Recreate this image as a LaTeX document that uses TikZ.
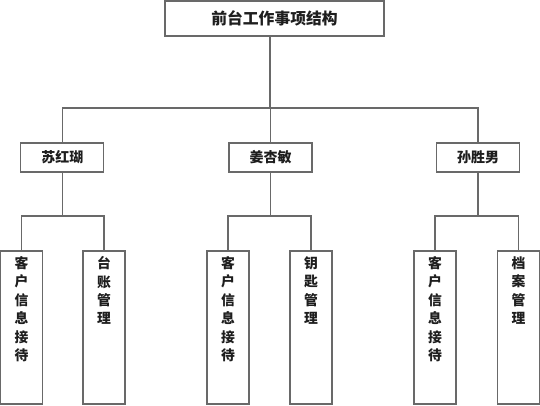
\documentclass[tikz,border=0pt]{standalone}
\usepackage{fontspec}
\newfontfamily\cjk{Noto Sans CJK SC}
\definecolor{linegray}{RGB}{105,105,105}
\definecolor{txt}{RGB}{30,30,30}
\begin{document}
\begin{tikzpicture}[x=1pt,y=1pt,
  box/.style={draw=linegray, line width=1.3pt, fill=white, inner sep=0pt, text=txt},
  topbox/.style={box, minimum width=219pt, minimum height=35pt, font=\cjk\bfseries\fontsize{15.8}{17}\selectfont},
  midbox/.style={box, minimum width=83pt, minimum height=29pt, font=\cjk\bfseries\fontsize{14}{15}\selectfont},
  leafbox/.style={box, minimum width=42pt, minimum height=153pt},
  leaftext/.style={inner sep=0pt, anchor=north, align=center, text=txt, font=\cjk\bfseries\fontsize{13.8}{18.4}\selectfont},
  conn/.style={draw=linegray, line width=1.3pt}]
\useasboundingbox (0,0) rectangle (540,-406);
\node[topbox] (top) at (274.5,-18.5) {前台工作事项结构};
\node[midbox] (A) at (62.3,-157.5) {苏红瑚};
\node[midbox] (B) at (270.5,-157.5) {姜杏敏};
\node[midbox] (C) at (478,-157.5) {孙胜男};
\node[leafbox] (L1) at (21.5,-327.5) {};
\node[leafbox] (L2) at (104,-327.5) {};
\node[leafbox] (L3) at (228,-327.5) {};
\node[leafbox] (L4) at (311,-327.5) {};
\node[leafbox] (L5) at (435,-327.5) {};
\node[leafbox] (L6) at (518.5,-327.5) {};
\node[leaftext] (T1) at ([yshift=-6pt]L1.north) {客\\户\\信\\息\\接\\待};
\node[leaftext] (T2) at ([yshift=-6pt]L2.north) {台\\账\\管\\理};
\node[leaftext] (T3) at ([yshift=-6pt]L3.north) {客\\户\\信\\息\\接\\待};
\node[leaftext] (T4) at ([yshift=-6pt]L4.north) {钥\\匙\\管\\理};
\node[leaftext] (T5) at ([yshift=-6pt]L5.north) {客\\户\\信\\息\\接\\待};
\node[leaftext] (T6) at ([yshift=-6pt]L6.north) {档\\案\\管\\理};
\coordinate (h1) at (0,-108);
\coordinate (h2) at (0,-216);
% top level
\draw[conn] (top.south -| 270,0) -- (270,-108);
\draw[conn] (A.north) |- (h1 -| C.north) -- (C.north);
\draw[conn] (h1 -| B.north) -- (B.north);
% branches
\draw[conn] (A.south) -- (A.south |- h2);
\draw[conn] (L1.north) |- (h2 -| L2.north) -- (L2.north);
\draw[conn] (B.south) -- (B.south |- h2);
\draw[conn] (L3.north) |- (h2 -| L4.north) -- (L4.north);
\draw[conn] (C.south) -- (C.south |- h2);
\draw[conn] (L5.north) |- (h2 -| L6.north) -- (L6.north);
\end{tikzpicture}
\end{document}
